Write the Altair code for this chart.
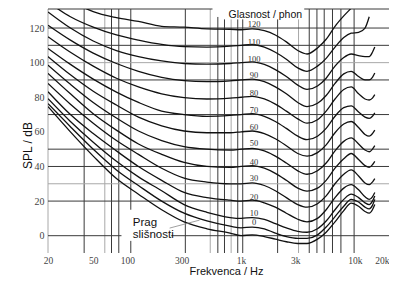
import altair as alt
import pandas as pd

# frequency grid (Hz) at which the curves were read
freqs = [20, 31.5, 50, 80, 125, 200, 315, 500, 800, 1000, 1250, 1600, 2000, 2500,
         3150, 3800, 4700, 5600, 6700, 8000, 9300, 10800, 12300, 13400, 14300, 15000]

# SPL (dB) of each equal-loudness contour
phon_0 = [74.6, 60, 46, 33, 24, 15, 8, 4, 1.5, 0, 0.5, -0.5, -2, -3.5, -4.5, -4.5, -2, 2, 8, 14.5, 18.8, 17, 14, 13, 15, 18]
prag = [76.3, 63, 50, 38, 29, 20, 13, 8.5, 5.5, 4.5, 5, 4, 1.5, -0.5, -1.5, -1.5, 0.5, 5, 11, 17, 21, 19.5, 16.5, 15.5, 17.5, 21]
phon_10 = [79.2, 66, 54, 43, 34, 26, 18, 13.5, 10.5, 10, 10.5, 9.5, 7, 4.5, 2.5, 2, 4, 8.5, 15, 21, 24, 22, 19, 18, 20, 23]
phon_20 = [83.2, 70, 59, 49, 40, 32, 25, 22, 20.5, 20, 20.5, 19, 16.5, 13, 9.5, 8, 10, 15, 22, 27.5, 29.5, 26.5, 22.5, 21, 22.5, 25]
phon_30 = [88, 76, 65, 55, 47, 39, 33.3, 31, 30, 30, 30.5, 29, 26, 22, 18, 16.5, 18.5, 23, 30, 35.5, 38, 34.5, 30.5, 29.5, 31, 33]
phon_40 = [93.8, 82, 70.5, 61, 53, 47, 42.3, 40, 39.5, 40, 40.5, 39, 36, 32, 27.5, 25.8, 27.5, 32, 39, 44.5, 47.5, 44, 40.5, 39.5, 41, 43]
phon_50 = [98.6, 87.5, 77, 68, 60.5, 55, 51.5, 50, 49.5, 50, 50.5, 49, 46, 42, 37.5, 35.5, 37.5, 42, 49, 54.5, 56.5, 53, 49.5, 48.5, 50, 52]
phon_60 = [103.5, 93, 83.5, 75.5, 68.5, 63.5, 60.5, 59.5, 59.5, 60, 60.5, 59, 56, 52, 47.5, 46, 48, 52.5, 59.5, 64.5, 66, 62.5, 58.5, 57.5, 59, 61]
phon_70 = [108.2, 99, 90.5, 83, 77, 72, 70, 69, 69.5, 70, 70.5, 69, 66, 62, 57.5, 55.5, 57.5, 62, 69, 74, 75, 71.5, 68.5, 67.8, 69, 71]
phon_80 = [115, 106, 98, 91, 86, 82, 79.8, 79, 79.5, 80, 80.5, 79, 76, 72, 67.5, 65, 67, 72, 79, 84.5, 86, 82, 79, 78.4, 79.5, 81.5]
phon_90 = [121.6, 113, 105.5, 99.5, 95, 91.5, 89.6, 89, 89.5, 90, 90.5, 89, 86, 82, 77, 74.6, 76.5, 81, 88, 93.5, 95, 92, 90, 90, 91.5, 94]
phon_100 = [129.3, 120, 112.5, 107, 103.5, 101, 99.5, 99.2, 99.5, 100, 100.5, 99, 96, 92, 87, 84.5, 86.5, 91, 98, 103, 105, 104, 103.5, 103.5, 106, 109]
phon_110 = [135, 126.5, 120.5, 116, 113, 110.5, 109.2, 109, 109.5, 110, 110.5, 109, 106, 102, 97, 95, 98, 102.5, 109, 114.5, 117, 117.5, 120, 126.5, None, None]
phon_120 = [145, 136, 129.5, 126, 123.8, 121, 120.5, 119.5, 119.3, 119, 119.5, 118.5, 116, 112, 107, 105, 108.5, 113.5, 121, 127, 131.5, 136, 140, None, None, None]

curve_sets = {"0": phon_0, "prag": prag, "10": phon_10, "20": phon_20, "30": phon_30,
              "40": phon_40, "50": phon_50, "60": phon_60, "70": phon_70, "80": phon_80,
              "90": phon_90, "100": phon_100, "110": phon_110, "120": phon_120}

# contour labels
label_text = ["120", "110", "100", "90", "80", "70", "60", "50", "40", "30", "20", "10", "0"]
label_db = [122.4, 111.8, 102.2, 92.6, 82.5, 72.5, 62.9, 53.3, 42.8, 33.1, 22.6, 13.3, 7.8]
label_freq = 1300

# axis ticks
x_ticks = [20, 50, 100, 300, 1000, 3000, 10000, 20000]
y_ticks = [0, 20, 40, 60, 80, 100, 120]

# vertical grid lines (Hz) with their extent (dB) and tone
v_freq = [20, 41.6, 63.2, 72.4, 83.9, 107, 107, 323, 535, 624, 714, 817, 934, 1033, 2095, 3200, 3975, 4645, 5383, 6367, 7550, 9864]
v_lo = [-10, -10, -10, -10, -10, -10, 15, -10, -10, -10, -10, -10, -10, -10, -10, -10, -10, -10, -10, -10, -10, -10]
v_hi = [131, 131, 131, 131, 131, -3, 131, 131, 131, 126.4, 125, 125, 125, 125, 125, 125, 131, 131, 131, 131, 131, 131]
v_tone = ["light", "dark", "light", "dark", "dark", "dark", "dark", "dark", "light", "dark", "dark", "light", "dark", "dark", "dark", "light", "dark", "dark", "dark", "dark", "dark", "dark"]

# horizontal grid lines (dB) with their extent (Hz) and tone
h_db = [0, 0, 20, 30, 40, 50, 70, 90, 100, 110, 120, 131, 131]
h_f1 = [20, 243, 20, 20, 20, 20, 20, 20, 20, 20, 20, 20, 3592]
h_f2 = [88.6, 20000, 20000, 20000, 20000, 20000, 20000, 20000, 20000, 20000, 20000, 560, 20000]
h_tone = ["dark", "dark", "dark", "light", "dark", "dark", "dark", "dark", "light", "dark", "dark", "dark", "dark"]

rows = []
for name, vals in curve_sets.items():
    for f, v in zip(freqs, vals):
        if v is not None:
            rows.append({"curve": name, "f": f, "db": v})
curve_df = pd.DataFrame(rows)

vdf = pd.DataFrame({"f": v_freq, "lo": v_lo, "hi": v_hi, "tone": v_tone})
hdf = pd.DataFrame({"db": h_db, "f1": h_f1, "f2": h_f2, "tone": h_tone})
ldf = pd.DataFrame({"text": label_text, "db": label_db, "f": [label_freq] * len(label_text)})

xs = alt.Scale(type="log", domain=[20, 20000], nice=False)
ys = alt.Scale(domain=[-10, 131], nice=False, zero=False)
tone_scale = alt.Scale(domain=["dark", "light"], range=["#3a3a3a", "#a8a8a8"])

x_axis = alt.Axis(
    values=x_ticks, grid=False, domain=False, ticks=False,
    labelExpr="datum.value >= 1000 ? format(datum.value/1000, 'd') + 'k' : format(datum.value, 'd')",
    labelFont="Liberation Serif", labelFontSize=9.5, labelColor="#444", labelPadding=2,
    labelFlush=False,
    labelAlign={"condition": {"test": "datum.value >= 20000", "value": "right"}, "value": "center"},
    title="Frekvenca / Hz", titleFont="Liberation Sans", titleFontSize=11,
    titleFontWeight="normal", titleColor="#111", titleX=178, titleY=12,
    titleBaseline="top")
y_axis = alt.Axis(
    values=y_ticks, grid=False, domain=False, ticks=False,
    labelFont="Liberation Serif", labelFontSize=10, labelColor="#444", labelPadding=4,
    title="SPL / dB", titleFont="Liberation Sans", titleFontSize=12,
    titleFontWeight="normal", titleColor="#111", titleX=-21, titleY=136,
    titleAngle=-90, titleBaseline="middle", titleAlign="center")


def X(field):
    return alt.X(field, scale=xs, axis=x_axis)


def Y(field):
    return alt.Y(field, scale=ys, axis=y_axis)


vrules = alt.Chart(vdf).mark_rule(strokeWidth=1).encode(
    x=X("f:Q"), y=Y("lo:Q"), y2="hi:Q",
    color=alt.Color("tone:N", scale=tone_scale, legend=None),
)

hrules = alt.Chart(hdf).mark_rule(strokeWidth=1).encode(
    x=X("f1:Q"), x2="f2:Q", y=Y("db:Q"),
    color=alt.Color("tone:N", scale=tone_scale, legend=None),
)

lines = alt.Chart(curve_df).mark_line(
    interpolate="monotone", clip=True, color="#111", strokeWidth=1.3
).encode(
    x=X("f:Q"), y=Y("db:Q"), detail="curve:N", order="f:Q",
)

labels = alt.Chart(ldf).mark_text(
    font="Liberation Serif", fontSize=8.5, color="#333", align="center", baseline="middle"
).encode(x=X("f:Q"), y=Y("db:Q"), text="text:N")

ann_df = pd.DataFrame({"f": [1634, 111.4, 111.4], "db": [125.9, 7.3, 0.4],
                       "text": ["Glasnost / phon", "Prag", "slišnosti"]})
title_txt = alt.Chart(ann_df.iloc[[0]]).mark_text(
    font="Liberation Sans", fontSize=10.5, color="#111", align="center", baseline="alphabetic"
).encode(x=X("f:Q"), y=Y("db:Q"), text="text:N")
prag_txt = alt.Chart(ann_df.iloc[[1, 2]]).mark_text(
    font="Liberation Sans", fontSize=11.5, color="#111", align="left", baseline="middle"
).encode(x=X("f:Q"), y=Y("db:Q"), text="text:N")

leader_df = pd.DataFrame({"f1": [235], "f2": [431], "d1": [4.4], "d2": [9.0]})
leader = alt.Chart(leader_df).mark_rule(color="#888", strokeWidth=0.8).encode(
    x=X("f1:Q"), x2="f2:Q", y=Y("d1:Q"), y2="d2:Q",
)

chart = alt.layer(vrules, hrules, lines, labels, title_txt, prag_txt, leader).properties(
    width=341, height=244,
    autosize=alt.AutoSizeParams(type="none"),
    padding={"left": 40, "top": 1, "right": 0, "bottom": 22},
    background="white",
).configure_view(stroke=None)

chart.save("out.html", embed_options={"renderer": "svg", "actions": False})
